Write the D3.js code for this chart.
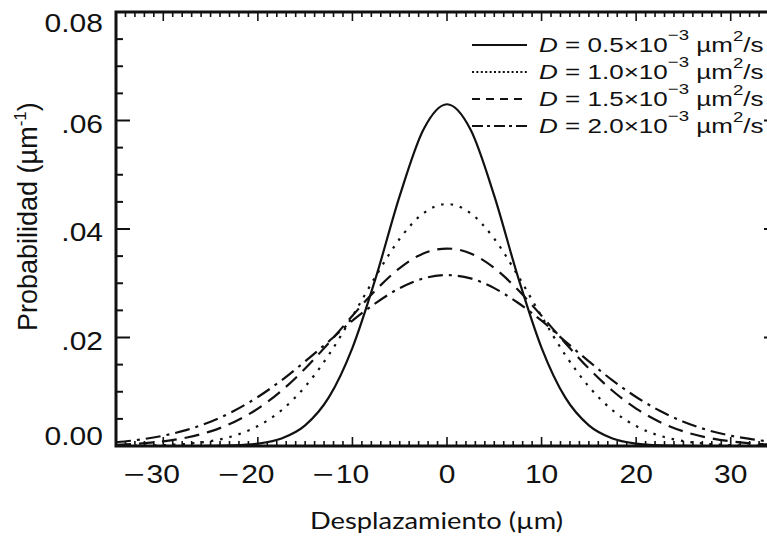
<!DOCTYPE html>
<html>
<head>
<meta charset="utf-8">
<script src="https://cdn.jsdelivr.net/npm/d3@7"></script>
<style>
  body { margin: 0; background: #fff; }
  svg { display: block; }
</style>
</head>
<body>
<svg id="chart" width="767" height="538"></svg>
<script>
// Displacement grid (µm) and probability density (µm^-1) for each diffusion coefficient
const displacement = [-35, -32.5, -30, -27.5, -25, -22.5, -20, -17.5, -15, -12.5, -10, -7.5, -5, -2.5, 0,
                      2.5, 5, 7.5, 10, 12.5, 15, 17.5, 20, 22.5, 25, 27.5, 30, 32.5, 35];
const probD05 = [0, 0, 0, 0, 0.00003, 0.00011, 0.00043, 0.00138, 0.0038, 0.00895, 0.0181, 0.0312, 0.0461, 0.0583, 0.0630,
                 0.0583, 0.0461, 0.0312, 0.0181, 0.00895, 0.0038, 0.00138, 0.00043, 0.00011, 0.00003, 0, 0, 0, 0];
const probD10 = [0.00002, 0.00006, 0.00016, 0.0004, 0.0009, 0.00189, 0.00367, 0.00659, 0.01095, 0.0168, 0.0239, 0.0314, 0.0382, 0.0429, 0.0446,
                 0.0429, 0.0382, 0.0314, 0.0239, 0.0168, 0.01095, 0.00659, 0.00367, 0.00189, 0.0009, 0.0004, 0.00016, 0.00006, 0.00002];
const probD15 = [0.00022, 0.00045, 0.00086, 0.00156, 0.0027, 0.00443, 0.00689, 0.01018, 0.01428, 0.0190, 0.0240, 0.0288, 0.0328, 0.0355, 0.0364,
                 0.0355, 0.0328, 0.0288, 0.0240, 0.0190, 0.01428, 0.01018, 0.00689, 0.00443, 0.0027, 0.00156, 0.00086, 0.00045, 0.00022];
const probD20 = [0.00069, 0.00117, 0.0019, 0.00297, 0.00448, 0.00649, 0.00904, 0.0121, 0.0156, 0.0193, 0.0231, 0.0264, 0.0291, 0.0309, 0.0315,
                 0.0309, 0.0291, 0.0264, 0.0231, 0.0193, 0.0156, 0.0121, 0.00904, 0.00649, 0.00448, 0.00297, 0.0019, 0.00117, 0.00069];

const coefficientLabels = ["0.5", "1.0", "1.5", "2.0"];
const xTickValues = [-30, -20, -10, 0, 10, 20, 30];
const yTickValues = [0, 0.02, 0.04, 0.06, 0.08];
const yTickLabels = ["0.00", ".02", ".04", ".06", "0.08"];

const series = [
  { label: coefficientLabels[0], values: probD05, dash: null,          legendDash: null },
  { label: coefficientLabels[1], values: probD10, dash: "2.5,7",       legendDash: "2,2.4" },
  { label: coefficientLabels[2], values: probD15, dash: "15,8",        legendDash: "8,6" },
  { label: coefficientLabels[3], values: probD20, dash: "15,6,3,6",    legendDash: "11,4,3,4" }
];

const svg = d3.select("#chart");
const ink = "#111";
const tickFont = "'Liberation Sans', Arial, Helvetica, sans-serif";
const stretch = 1.2;

const x = d3.scaleLinear().domain([-35, 35]).range([116, 778]);
const y = d3.scaleLinear().domain([0, 0.08]).range([446, 12]);
const [x0, x1] = x.range();
const [yB, yT] = y.range();

// Curves
const line = d3.line()
  .x((d, i) => x(displacement[i]))
  .y(d => y(d))
  .curve(d3.curveMonotoneX);

svg.append("g").selectAll("path")
  .data(series)
  .join("path")
  .attr("d", d => line(d.values))
  .attr("fill", "none")
  .attr("stroke", ink)
  .attr("stroke-width", 2.2)
  .attr("stroke-dasharray", d => d.dash);

// Frame and ticks
const axes = svg.append("g").attr("stroke", ink).attr("fill", "none");
axes.append("rect")
  .attr("x", x0).attr("y", yT)
  .attr("width", x1 - x0).attr("height", yB - yT)
  .attr("stroke-width", 3);

const xMinor = d3.range(-35, 36, 1);
const yMinor = d3.range(0, 0.0801, 0.005);

function xTickLen(v) { return v % 10 === 0 ? 9 : 5; }
function yTickLen(v) { return Math.abs(Math.round(v / 0.005)) % 4 === 0 ? 14 : 7; }

axes.append("g").selectAll("line").data(xMinor).join("line")
  .attr("x1", d => x(d)).attr("x2", d => x(d))
  .attr("y1", yB).attr("y2", d => yB - xTickLen(d))
  .attr("stroke-width", 1.6);
axes.append("g").selectAll("line").data(xMinor).join("line")
  .attr("x1", d => x(d)).attr("x2", d => x(d))
  .attr("y1", yT).attr("y2", d => yT + xTickLen(d))
  .attr("stroke-width", 1.6);
axes.append("g").selectAll("line").data(yMinor).join("line")
  .attr("y1", d => y(d)).attr("y2", d => y(d))
  .attr("x1", x0).attr("x2", d => x0 + yTickLen(d))
  .attr("stroke-width", 2);
axes.append("g").selectAll("line").data(yMinor).join("line")
  .attr("y1", d => y(d)).attr("y2", d => y(d))
  .attr("x1", x1).attr("x2", d => x1 - yTickLen(d))
  .attr("stroke-width", 2);

// Tick labels
const labels = svg.append("g")
  .attr("fill", ink)
  .attr("font-family", tickFont)
  .attr("font-size", 25);

const xl = labels.append("g").selectAll("g").data(xTickValues).join("g");
xl.append("text")
  .attr("text-anchor", "middle")
  .attr("transform", d => `translate(${x(d)},483) scale(${stretch},1)`)
  .text(d => Math.abs(d));
xl.filter(d => d < 0).append("text")
  .attr("text-anchor", "middle")
  .attr("transform", d => `translate(${x(d) - 29},483) scale(1.45,1)`)
  .text("\u2212");

labels.append("g").selectAll("text").data(yTickValues).join("text")
  .attr("text-anchor", "end")
  .attr("transform", d => {
    const base = Math.max(yT + 20, Math.min(yB - 1, y(d) + 12));
    return `translate(103,${base}) scale(${stretch},1)`;
  })
  .text((d, i) => yTickLabels[i]);

// Axis titles
svg.append("text")
  .attr("x", 436.5).attr("y", 529)
  .attr("text-anchor", "middle")
  .attr("font-family", "Lato, 'Open Sans', sans-serif").attr("font-size", 24)
  .attr("fill", ink)
  .attr("textLength", 253).attr("lengthAdjust", "spacingAndGlyphs")
  .text("Desplazamiento (\u00b5m)");

const yTitle = svg.append("text")
  .attr("transform", "translate(37,331) rotate(-90)")
  .attr("text-anchor", "start")
  .attr("font-family", tickFont).attr("font-size", 27)
  .attr("fill", ink);
yTitle.append("tspan").text("Probabilidad (\u00b5m");
yTitle.append("tspan").attr("font-size", 17).attr("dy", -11).text("-1");
yTitle.append("tspan").attr("dy", 11).text(")");

// Legend
const legend = svg.append("g").attr("font-family", tickFont).attr("fill", ink);
const rows = legend.selectAll("g").data(series).join("g")
  .attr("transform", (d, i) => `translate(0,${45 + i * 27})`);
rows.append("line")
  .attr("x1", 472).attr("x2", 527).attr("y1", 0).attr("y2", 0)
  .attr("stroke", ink).attr("stroke-width", 2.2)
  .attr("stroke-dasharray", d => d.legendDash);
const lt = rows.append("text")
  .attr("transform", `translate(539,7) scale(1.24,1)`)
  .attr("font-size", 21);
lt.append("tspan").attr("font-style", "italic").text("D");
lt.append("tspan").text(d => ` = ${d.label}\u00d710`);
lt.append("tspan").attr("font-size", 15).attr("dy", -12).text("\u22123");
lt.append("tspan").attr("dy", 12).text(" \u00b5m");
lt.append("tspan").attr("font-size", 15).attr("dy", -11).text("2");
lt.append("tspan").attr("dy", 11).text("/s");
</script>
</body>
</html>
